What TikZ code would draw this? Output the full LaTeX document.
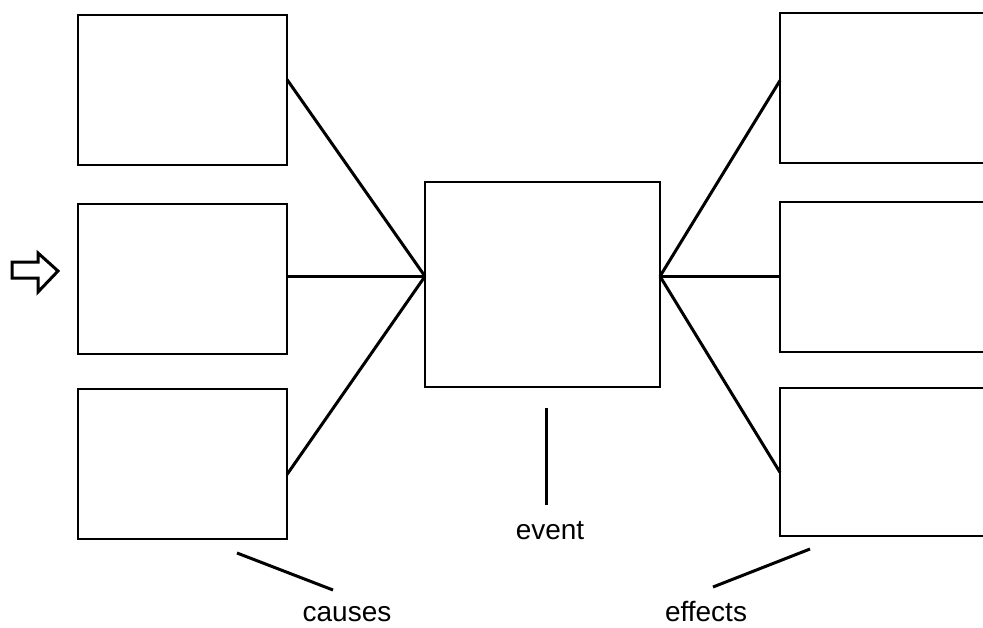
\documentclass[tikz,border=0pt]{standalone}
\usepackage{fontspec}
\setmainfont{Liberation Sans}
\usetikzlibrary{calc}
\begin{document}
\begin{tikzpicture}[x=1pt,y=-1pt,
  box/.style={draw=black,line width=2.8pt,inner sep=0pt,outer sep=0pt,
    minimum width=209pt,minimum height=150pt,anchor=north west},
  link/.style={draw=black,line width=3pt},
  lbl/.style={font=\fontsize{28}{31}\selectfont,inner sep=0pt,anchor=base}]
\useasboundingbox (0,0) rectangle (983,627);
\clip (0,0) rectangle (983,627);
% cause boxes
\node[box] (c1) at (78,15) {};
\node[box] (c2) at (78,204) {};
\node[box] (c3) at (78,389) {};
% event box
\node[box,minimum width=235pt,minimum height=205pt] (ev) at (425,182) {};
% effect boxes (run off the right edge)
\node[box,minimum width=240pt] (e1) at (780,13) {};
\node[box,minimum width=240pt] (e2) at (780,202) {};
\node[box,minimum width=240pt,minimum height=148pt] (e3) at (780,388) {};
% meeting points on the event box
\coordinate (evL) at ($(ev.north west)!0.46!(ev.south west)$);
\coordinate (evR) at ($(ev.north east)!0.46!(ev.south east)$);
% connectors
\draw[link] ($(c1.north east)!0.43!(c1.south east)$) -- (evL);
\draw[link] (evL -| c2.east) -- (evL);
\draw[link] ($(c3.north east)!0.57!(c3.south east)$) -- (evL);
\draw[link] (evR) -- ($(e1.north west)!0.45!(e1.south west)$);
\draw[link] (evR) -- (evR -| e2.west);
\draw[link] (evR) -- ($(e3.north west)!0.57!(e3.south west)$);
% labels and their pointer lines
\node[lbl] (causes) at (347,621) {causes};
\node[lbl] (event) at (550,539) {event};
\node[lbl] (effects) at (706,621) {effects};
\coordinate (ca) at (237,553);
\coordinate (cb) at (333,590);
\coordinate (ea) at (546,408);
\coordinate (eb) at (546,505);
\coordinate (fa) at (713,587);
\coordinate (fb) at (810,549);
\draw[link] (ca) -- (cb);
\draw[link] (ea) -- (eb);
\draw[link] (fa) -- (fb);
% hollow block arrow at the left
\draw[line width=3pt,line join=miter] (12,262) -- (38,262) -- (38,253) -- (58,271)
  -- (38,292) -- (38,278) -- (12,278) -- cycle;
\end{tikzpicture}
\end{document}
